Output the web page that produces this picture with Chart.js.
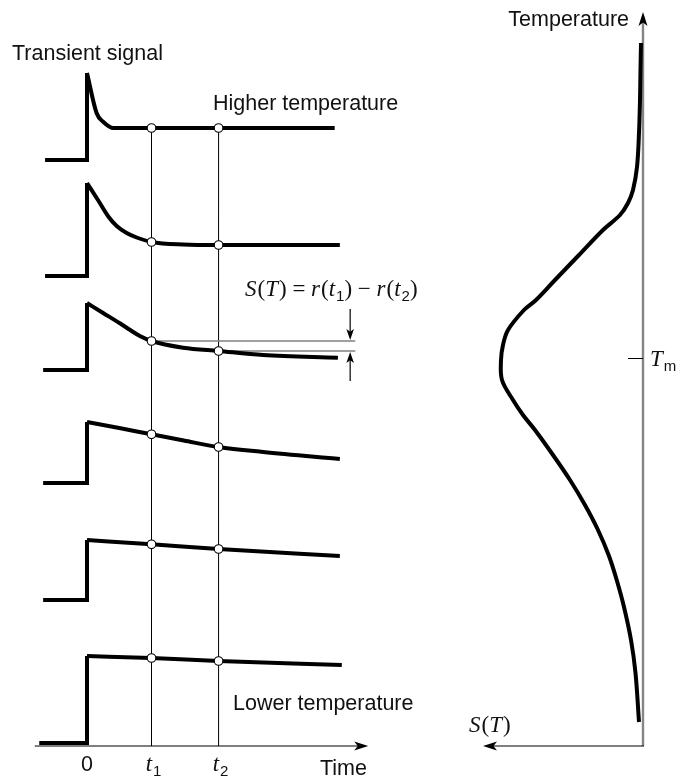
<!DOCTYPE html>
<html><head><meta charset="utf-8">
<script src="https://cdn.jsdelivr.net/npm/chart.js@4.4.1/dist/chart.umd.min.js"></script>
<style>html,body{margin:0;padding:0;background:#fff;overflow:hidden}canvas{display:block}</style>
</head><body>
<canvas id="c" width="679" height="776"></canvas>
<script>
// ---------- Left panel: transient signals r(t) at six temperatures ----------
const t1 = 1.0, t2 = 2.04;                    // sampling times
const tickTimes = [0, t1, t2];
const tickLabels = ['0', 't_1', 't_2'];
const traceNames = ['Higher temperature', '', '', '', '', 'Lower temperature'];
const traceBaselines = [58.6, 47.0, 37.6, 26.3, 14.6, 0.3];   // signal level before t = 0
const traceStarts = [-0.65, -0.65, -0.68, -0.68, -0.68, -0.74];
const trace1Time  = [0, 0.15, 0.25, 0.41, 1, 2.04, 3.84];
const trace1Value = [8.7, 4.67, 3.83, 3.2, 3.2, 3.2, 3.2];
const trace2Time  = [0, 0.17, 0.336, 0.46, 0.615, 0.77, 1, 1.49, 2.04, 3.92];
const trace2Value = [9.3, 7.6, 5.9, 5.0, 4.3, 3.85, 3.4, 3.15, 3.1, 3.1];
const trace3Time  = [0, 0.25, 0.51, 0.67, 0.82, 1, 1.49, 2.04, 2.73, 3.89];
const trace3Value = [6.7, 5.7, 4.67, 4.0, 3.4, 2.9, 2.23, 1.9, 1.5, 1.23];
const trace4Time  = [0, 0.5, 1, 1.5, 2.04, 2.73, 3.92];
const trace4Value = [6.1, 5.5, 4.87, 4.25, 3.6, 3.1, 2.4];
const trace5Time  = [0, 1, 2.04, 3.92];
const trace5Value = [6.0, 5.57, 5.1, 4.4];
const trace6Time  = [0, 1, 2.04, 3.95];
const trace6Value = [8.7, 8.5, 8.2, 7.8];

// ---------- Right panel: S(T) versus temperature ----------
const tempValues = [70.3, 67.6, 64.6, 61.3, 57.9, 55.6, 54.3, 53.1, 51.6, 49.1, 46.6, 44.6, 43.6, 41.6, 40.1, 38.6, 36.6, 34.6, 33.1, 31.6, 29.1, 26.6, 24.1, 21.6, 19.0, 16.5, 13.9, 10.6, 7.3, 2.4];
const signalS    = [0.02, 0.025, 0.03, 0.04, 0.06, 0.10, 0.15, 0.23, 0.40, 0.64, 0.88, 1.07, 1.19, 1.35, 1.40, 1.42, 1.41, 1.30, 1.20, 1.08, 0.90, 0.73, 0.58, 0.45, 0.34, 0.26, 0.19, 0.12, 0.075, 0.04];
const tempMax = 38.75;       // T_m
const selectedTrace = 2;     // trace used to illustrate S(T) = r(t1) - r(t2)

// ---------- build datasets ----------
const traceTimes = [trace1Time, trace2Time, trace3Time, trace4Time, trace5Time, trace6Time];
const traceValues = [trace1Value, trace2Value, trace3Value, trace4Value, trace5Value, trace6Value];
const datasets = [];
const L = {xAxisID: 'xTime', yAxisID: 'ySig'};
function valueAt(i, t) { return traceBaselines[i] + traceValues[i][traceTimes[i].indexOf(t)]; }

traceTimes.forEach((times, i) => {
  const b = traceBaselines[i];
  datasets.push(Object.assign({
    label: 'step ' + (i + 1), showLine: true, order: 1,
    data: [{x: traceStarts[i], y: b}, {x: 0, y: b}, {x: 0, y: b + traceValues[i][0]}],
    borderColor: '#000', borderWidth: 4, pointRadius: 0, tension: 0,
    borderJoinStyle: 'miter', borderCapStyle: 'butt'
  }, L));
  datasets.push(Object.assign({
    label: traceNames[i] || ('trace ' + (i + 1)), showLine: true, order: 1,
    data: times.map((t, k) => ({x: t, y: b + traceValues[i][k]})),
    borderColor: '#000', borderWidth: 4, pointRadius: 0,
    cubicInterpolationMode: 'monotone', borderJoinStyle: 'round', borderCapStyle: 'butt'
  }, L));
  datasets.push(Object.assign({
    label: 'samples ' + (i + 1), showLine: false, order: 0,
    data: [t1, t2].map(t => ({x: t, y: valueAt(i, t)})),
    pointRadius: 4.3, pointBackgroundColor: '#fff', pointBorderColor: '#000', pointBorderWidth: 1.1
  }, L));
});
[t1, t2].forEach(t => {
  datasets.push(Object.assign({
    label: 'time ' + t, showLine: true, order: 3,
    data: [{x: t, y: 0}, {x: t, y: valueAt(0, t)}],
    borderColor: '#000', borderWidth: 1, pointRadius: 0
  }, L));
});
const bracketT = 4.16, bracketArrowT = 4.08;
[t1, t2].forEach(t => {
  const v = valueAt(selectedTrace, t);
  datasets.push(Object.assign({
    label: 'level ' + t, showLine: true, order: 2,
    data: [{x: t, y: v}, {x: bracketT, y: v}],
    borderColor: '#808080', borderWidth: 1.6, pointRadius: 0
  }, L));
});
datasets.push({
  label: 'S(T)', showLine: true, order: 1, xAxisID: 'xS', yAxisID: 'yT',
  data: tempValues.map((T, k) => ({x: signalS[k], y: T})),
  borderColor: '#000', borderWidth: 4, pointRadius: 0, tension: 0.35, borderCapStyle: 'butt'
});

// ---------- drawing helpers ----------
function seg(ctx, x1, y1, x2, y2, color, w) {
  ctx.save(); ctx.strokeStyle = color; ctx.lineWidth = w; ctx.beginPath();
  ctx.moveTo(x1, y1); ctx.lineTo(x2, y2); ctx.stroke(); ctx.restore();
}
function head(ctx, fx, fy, tx, ty, len, hw) {
  const a = Math.atan2(ty - fy, tx - fx), c = Math.cos(a), s = Math.sin(a);
  const bx = tx - c * len, by = ty - s * len;
  ctx.save(); ctx.fillStyle = '#000'; ctx.beginPath();
  ctx.moveTo(tx, ty);
  ctx.lineTo(bx - s * hw, by + c * hw);
  ctx.lineTo(tx - c * len * 0.75, ty - s * len * 0.75);
  ctx.lineTo(bx + s * hw, by - c * hw);
  ctx.closePath(); ctx.fill(); ctx.restore();
}
const SANS = '"Liberation Sans", Arial, Helvetica, sans-serif';
const SERIF = '"Liberation Serif", "Times New Roman", serif';
function rich(ctx, x, y, tokens, align) {
  const fonts = {
    i: 'italic 23px ' + SERIF, r: '23px ' + SERIF, s: '15px ' + SANS, n: '21.5px ' + SANS, ns: '15px ' + SANS
  };
  const offs = {i: 0, r: 0, s: 5, n: 0, ns: 5};
  let w = 0;
  tokens.forEach(([t, st]) => { ctx.font = fonts[st]; w += ctx.measureText(t).width + (st === 'i' ? 1 : 0); });
  let cx = align === 'center' ? x - w / 2 : (align === 'right' ? x - w : x);
  ctx.save(); ctx.fillStyle = '#111'; ctx.textBaseline = 'alphabetic'; ctx.textAlign = 'left';
  tokens.forEach(([t, st]) => {
    ctx.font = fonts[st]; ctx.fillText(t, cx, y + offs[st]);
    cx += ctx.measureText(t).width + (st === 'i' ? 1 : 0);
  });
  ctx.restore();
}
function tickTokens(lbl) {
  const p = lbl.split('_');
  return p.length > 1 ? [[p[0], 'i'], [p[1], 's']] : [[p[0], 'n']];
}

const labelAnchors = {
  transient: {t: -1.163, v: 68.6},
  tickBase: -2.5,
  timeTitle: {t: 3.612, v: -2.9},
  formula: {t: 2.45, v: 45.0},
  tempTitle: {s: 0.14, T: 72.0},
  sTitle: {s: 1.74, T: 1.4},
  tm: {s: -0.07, T: 38.0},
  higher: {t: 1.953, v: 63.6},
  lower: {t: 2.264, v: 3.6}
};
const axisLimits = {timeFrom: -0.81, timeTo: 4.36, tempTop: 73.4, sLeft: 1.60, tmTick: 0.15};

const decor = {
  id: 'decor',
  beforeDatasetsDraw(chart) {
    const ctx = chart.ctx, X = chart.scales.xTime, Y = chart.scales.ySig, XS = chart.scales.xS, YT = chart.scales.yT;
    const y0 = Y.getPixelForValue(0);
    seg(ctx, X.getPixelForValue(axisLimits.timeFrom), y0, X.getPixelForValue(axisLimits.timeTo) - 6, y0, '#000', 1.2);
    const ax = XS.getPixelForValue(0);
    seg(ctx, ax, YT.getPixelForValue(0), ax, YT.getPixelForValue(axisLimits.tempTop) + 8, '#858585', 2.4);
    seg(ctx, ax + 1, YT.getPixelForValue(0), XS.getPixelForValue(axisLimits.sLeft) + 6, YT.getPixelForValue(0), '#000', 1.2);
    const ty = YT.getPixelForValue(tempMax);
    seg(ctx, XS.getPixelForValue(axisLimits.tmTick), ty, ax, ty, '#000', 1);
  },
  afterDatasetsDraw(chart) {
    const ctx = chart.ctx, X = chart.scales.xTime, Y = chart.scales.ySig, XS = chart.scales.xS, YT = chart.scales.yT;
    const y0 = Y.getPixelForValue(0);
    const tx = X.getPixelForValue(axisLimits.timeTo);
    head(ctx, tx - 20, y0, tx, y0, 14, 4.5);
    const ax = XS.getPixelForValue(0), topY = YT.getPixelForValue(axisLimits.tempTop);
    head(ctx, ax, topY + 20, ax, topY, 14, 4.5);
    const sx = XS.getPixelForValue(axisLimits.sLeft), by = YT.getPixelForValue(0);
    head(ctx, sx + 20, by, sx, by, 14, 4.5);
    const bxp = X.getPixelForValue(bracketArrowT);
    const vUp = Y.getPixelForValue(valueAt(selectedTrace, t1));
    const vLo = Y.getPixelForValue(valueAt(selectedTrace, t2));
    seg(ctx, bxp, vUp - 32, bxp, vUp - 6, '#000', 1.2);
    head(ctx, bxp, vUp - 20, bxp, vUp - 1, 11, 3.8);
    seg(ctx, bxp, vLo + 30, bxp, vLo + 6, '#000', 1.2);
    head(ctx, bxp, vLo + 20, bxp, vLo + 1, 11, 3.8);
    const A = labelAnchors;
    ctx.save(); ctx.fillStyle = '#111'; ctx.font = '21.5px ' + SANS; ctx.textBaseline = 'alphabetic';
    ctx.textAlign = 'left';
    ctx.fillText('Transient signal', X.getPixelForValue(A.transient.t), Y.getPixelForValue(A.transient.v));
    ctx.fillText(traceNames[0], X.getPixelForValue(A.higher.t), Y.getPixelForValue(A.higher.v));
    ctx.fillText(traceNames[5], X.getPixelForValue(A.lower.t), Y.getPixelForValue(A.lower.v));
    ctx.fillText('Time', X.getPixelForValue(A.timeTitle.t), Y.getPixelForValue(A.timeTitle.v));
    ctx.textAlign = 'right';
    ctx.fillText('Temperature', XS.getPixelForValue(A.tempTitle.s), YT.getPixelForValue(A.tempTitle.T));
    ctx.restore();
    tickTimes.forEach((t, k) => {
      rich(ctx, X.getPixelForValue(t) + (k ? 2 : 0), Y.getPixelForValue(A.tickBase), tickTokens(tickLabels[k]), 'center');
    });
    rich(ctx, X.getPixelForValue(A.formula.t), Y.getPixelForValue(A.formula.v), [
      ['S', 'i'], ['(', 'r'], ['T', 'i'], [')', 'r'], [' = ', 'r'], ['r', 'i'], ['(', 'r'], ['t', 'i'], ['1', 's'], [')', 'r'],
      [' \u2212 ', 'r'], ['r', 'i'], ['(', 'r'], ['t', 'i'], ['2', 's'], [')', 'r']
    ], 'left');
    rich(ctx, XS.getPixelForValue(A.sTitle.s), YT.getPixelForValue(A.sTitle.T), [['S', 'i'], ['(', 'r'], ['T', 'i'], [')', 'r']], 'left');
    rich(ctx, XS.getPixelForValue(A.tm.s), YT.getPixelForValue(A.tm.T), [['T', 'i'], ['m', 'ns']], 'left');
  }
};

new Chart(document.getElementById('c'), {
  type: 'scatter',
  data: {datasets},
  options: {
    responsive: false, animation: false, devicePixelRatio: 1,
    layout: {padding: 0, autoPadding: false},
    plugins: {legend: {display: false}, tooltip: {enabled: false}},
    scales: {
      xTime: {type: 'linear', position: 'bottom', display: false, min: -87 / 64.5, max: (679 - 87) / 64.5},
      ySig:  {type: 'linear', position: 'left', display: false, min: -3.0, max: 74.6},
      xS:    {type: 'linear', position: 'bottom', display: false, reverse: true, min: -0.36, max: 6.43},
      yT:    {type: 'linear', position: 'left', display: false, min: -3.0, max: 74.6}
    }
  },
  plugins: [decor]
});
</script>
</body></html>
